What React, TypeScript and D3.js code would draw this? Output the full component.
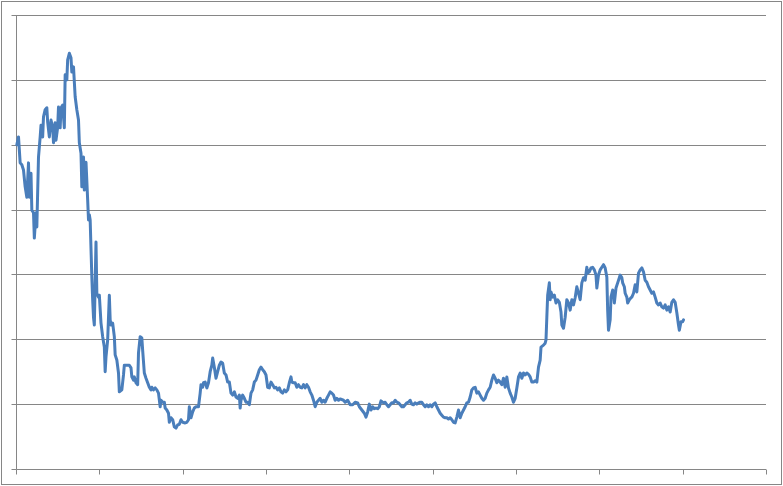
import React from "react";
import * as d3 from "d3";

const days: number[] = [
  1, 3, 5, 7, 9, 11, 13, 15, 16, 18, 19, 21, 22, 24, 25, 27, 29, 30, 32, 33, 35, 37, 38, 40, 42, 44, 45, 47, 48, 50,
  51, 53, 54, 56, 58, 59, 61, 62, 64, 66, 67, 69, 71, 73, 75, 76, 78, 79, 81, 82, 84, 86, 87, 88, 89, 91, 92, 93, 94, 95,
  96, 97, 99, 100, 102, 104, 106, 107, 108, 110, 112, 113, 114, 116, 118, 119, 121, 123, 124, 127, 129, 130, 133, 136, 138, 139, 141, 142, 144, 146,
  147, 149, 151, 152, 154, 156, 158, 160, 162, 163, 165, 167, 169, 171, 173, 174, 176, 178, 179, 181, 183, 184, 186, 188, 190, 192, 194, 196, 198, 200,
  203, 205, 207, 208, 210, 212, 214, 216, 219, 221, 222, 224, 225, 227, 229, 231, 233, 235, 236, 238, 240, 242, 244, 246, 248, 250, 252, 254, 256, 258,
  260, 262, 264, 266, 268, 269, 270, 272, 274, 276, 278, 280, 282, 284, 286, 288, 290, 292, 294, 296, 298, 300, 302, 304, 306, 308, 310, 312, 314, 316,
  318, 320, 322, 324, 326, 328, 330, 331, 333, 335, 337, 339, 341, 343, 345, 347, 349, 351, 353, 355, 357, 359, 361, 363, 365, 367, 369, 371, 373, 375,
  377, 379, 381, 383, 385, 387, 389, 393, 395, 398, 401, 404, 407, 410, 412, 415, 418, 420, 422, 424, 426, 428, 430, 432, 434, 436, 438, 441, 443, 445,
  447, 449, 451, 453, 455, 457, 459, 461, 463, 465, 467, 469, 471, 473, 475, 477, 479, 481, 483, 485, 487, 489, 491, 493, 495, 497, 499, 501, 503, 505,
  507, 509, 511, 513, 515, 517, 519, 521, 523, 525, 527, 529, 531, 533, 535, 537, 539, 541, 543, 545, 547, 549, 551, 553, 555, 557, 559, 561, 563, 565,
  567, 569, 571, 573, 575, 577, 579, 581, 583, 585, 587, 589, 591, 593, 595, 597, 599, 601, 603, 605, 607, 609, 611, 613, 615, 617, 619, 621, 623, 625,
  627, 629, 630, 633, 635, 636, 637, 638, 640, 641, 642, 644, 646, 648, 650, 652, 654, 655, 657, 659, 661, 663, 665, 667, 669, 671, 673, 675, 677, 679,
  681, 683, 685, 686, 688, 690, 692, 694, 696, 697, 699, 701, 703, 705, 707, 709, 710, 711, 713, 714, 716, 717, 718, 720, 722, 724, 725, 727, 728, 730,
  731, 733, 734, 736, 738, 739, 741, 743, 745, 747, 749, 751, 753, 755, 757, 759, 761, 763, 765, 767, 769, 771, 773, 775, 777, 779, 781, 783, 785, 787,
  789, 791, 793, 795, 796, 798, 800, 801,
];

const values: number[] = [
  50.0, 51.2, 47.2, 46.9, 46.1, 43.5, 41.9, 47.2, 41.9, 45.6, 39.9, 39.5, 35.6, 39.5, 37.3, 48.1, 51.2, 53.0, 51.2, 54.3, 55.4, 55.7, 53.5, 51.2, 53.8, 52.7, 50.3, 53.4, 50.7, 52.7,
  55.8, 52.6, 55.7, 56.1, 52.6, 60.8, 60.0, 63.1, 64.1, 63.4, 61.2, 62.0, 57.4, 55.4, 53.8, 50.3, 48.7, 43.5, 48.1, 43.0, 47.3, 41.5, 38.4, 39.2, 38.4, 29.6, 26.1, 23.4, 22.2, 28.7,
  35.0, 27.1, 26.5, 26.8, 22.5, 20.4, 18.8, 15.0, 17.3, 19.9, 26.8, 23.0, 22.2, 22.5, 20.4, 17.6, 16.8, 14.8, 11.9, 12.2, 14.5, 16.0, 16.0, 16.0, 15.6, 14.2, 13.7, 14.2, 13.3, 13.0,
  17.9, 20.4, 20.2, 18.3, 14.8, 14.0, 13.3, 12.6, 12.2, 12.6, 12.2, 12.5, 12.2, 11.7, 9.6, 10.6, 10.3, 10.3, 9.4, 9.1, 8.6, 7.2, 7.9, 7.6, 6.5, 6.3, 6.8, 6.9, 7.6, 7.2,
  7.1, 7.2, 7.6, 9.6, 7.9, 8.8, 9.4, 9.6, 9.6, 11.7, 13.0, 12.6, 13.3, 13.4, 12.5, 13.3, 15.0, 16.0, 17.1, 15.7, 14.0, 15.0, 16.0, 16.5, 16.3, 14.8, 14.5, 13.4, 13.4, 11.7,
  11.4, 11.9, 11.1, 10.9, 11.4, 9.4, 10.6, 11.4, 10.9, 10.3, 10.3, 9.9, 11.7, 12.2, 13.4, 13.7, 14.5, 15.3, 15.7, 15.3, 15.0, 14.5, 12.6, 12.5, 13.4, 13.0, 12.5, 12.6, 12.2, 12.5,
  11.9, 11.7, 12.2, 11.9, 12.2, 13.3, 14.2, 13.4, 13.3, 13.3, 12.6, 13.0, 12.6, 12.5, 13.0, 12.5, 13.0, 12.6, 11.9, 11.4, 10.6, 9.6, 10.3, 10.6, 10.9, 10.3, 10.6, 10.3, 10.9, 11.4,
  11.9, 11.7, 11.4, 10.6, 10.9, 10.6, 10.8, 10.6, 10.3, 10.6, 9.9, 9.9, 10.3, 10.2, 9.6, 9.1, 8.6, 8.0, 8.8, 10.0, 9.1, 9.6, 9.3, 9.4, 9.3, 9.6, 10.5, 10.2, 10.3, 9.9,
  9.6, 9.9, 10.2, 10.2, 10.6, 10.3, 10.2, 9.9, 9.6, 9.6, 9.9, 10.2, 10.3, 10.6, 10.0, 9.9, 10.2, 10.0, 10.2, 10.3, 10.3, 9.9, 9.6, 9.9, 9.6, 9.9, 9.6, 10.0, 10.2, 9.6,
  9.1, 8.6, 8.3, 8.0, 7.9, 7.9, 7.7, 7.9, 7.6, 7.2, 7.1, 8.0, 9.1, 7.9, 8.6, 9.1, 9.6, 10.2, 10.3, 11.1, 12.2, 12.5, 12.6, 11.7, 11.9, 11.4, 10.9, 10.6, 10.9, 11.7,
  12.2, 12.6, 13.7, 14.5, 14.0, 13.3, 13.7, 13.4, 13.0, 14.0, 12.6, 14.2, 12.5, 11.7, 11.1, 10.3, 10.9, 12.5, 14.2, 14.8, 14.0, 14.8, 14.5, 14.8, 14.6, 14.2, 13.4, 13.4, 13.6, 13.4,
  15.7, 16.8, 18.8, 19.1, 19.4, 19.9, 23.4, 26.8, 28.7, 26.1, 27.3, 26.5, 26.8, 25.6, 26.1, 25.7, 24.2, 22.2, 21.7, 23.4, 26.1, 25.6, 24.5, 26.1, 25.3, 26.4, 28.1, 27.1, 26.1, 28.7,
  29.5, 29.1, 31.1, 30.2, 30.4, 31.0, 31.1, 30.7, 29.9, 27.9, 29.9, 30.7, 31.1, 31.5, 31.0, 29.6, 24.5, 21.4, 23.0, 26.5, 27.6, 27.1, 25.6, 27.9, 28.7, 29.5, 29.9, 29.5, 28.7, 28.1,
  27.1, 26.5, 25.6, 26.1, 26.4, 26.5, 27.1, 28.4, 27.3, 30.2, 30.7, 31.0, 30.4, 29.1, 28.8, 28.1, 27.6, 27.1, 27.3, 26.5, 25.6, 25.3, 25.6, 25.0, 24.8, 25.3, 24.5, 25.0, 24.2, 25.7,
  26.1, 25.7, 24.1, 22.2, 21.4, 22.7, 22.7, 23.0,
];

const xTicks: number[] = [0, 100, 200, 300, 400, 500, 600, 700, 800, 900];
const yTicks: number[] = [0, 10, 20, 30, 40, 50, 60, 70];

const W = 783;
const H = 486;
const M = { left: 16, right: 17, top: 15, bottom: 17 };

export default function App() {
  const x = d3.scaleLinear().domain([0, 900]).range([M.left, W - M.right]);
  const y = d3.scaleLinear().domain([0, 70]).range([H - M.bottom, M.top]);
  const pts: [number, number][] = days.map((d, i) => [d, values[i]]);
  const line = d3
    .line<[number, number]>()
    .x((d) => x(d[0]))
    .y((d) => y(d[1]));
  const grey = "#868686";
  const x0 = Math.round(x(0)) + 0.5;
  const yb = Math.round(y(0)) + 0.5;
  return (
    <svg
      width={W}
      height={H}
      style={{ position: "absolute", left: 0, top: 0, background: "#fff" }}
    >
      <rect x={1.5} y={1.5} width={780} height={483} fill="#fff" stroke={grey} strokeWidth={1} />
      {yTicks.map((t) => {
        const yy = Math.round(y(t)) + 0.5;
        return (
          <g key={"y" + t}>
            {t > 0 && <line x1={x0} x2={x(900)} y1={yy} y2={yy} stroke={grey} strokeWidth={1} />}
            <line x1={x0 - 5} x2={x0} y1={yy} y2={yy} stroke={grey} strokeWidth={1} />
          </g>
        );
      })}
      {xTicks.map((t) => {
        const xx = Math.round(x(t)) + 0.5;
        return <line key={"x" + t} x1={xx} x2={xx} y1={yb} y2={yb + 5} stroke={grey} strokeWidth={1} />;
      })}
      <line x1={x0} x2={x(900)} y1={yb} y2={yb} stroke={grey} strokeWidth={1} />
      <line x1={x0} x2={x0} y1={y(70)} y2={yb} stroke={grey} strokeWidth={1} />
      <path
        d={line(pts) || ""}
        fill="none"
        stroke="#4a7ebb"
        strokeWidth={3}
        strokeLinejoin="round"
        strokeLinecap="round"
      />
    </svg>
  );
}
